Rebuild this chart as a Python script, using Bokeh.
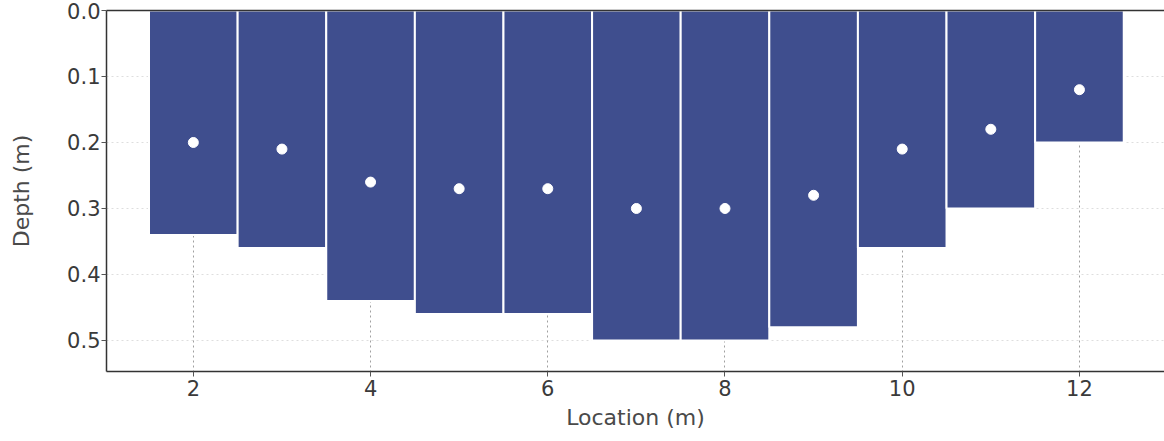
from bokeh.plotting import figure
from bokeh.models import Range1d, FixedTicker, LinearAxis, NumeralTickFormatter, ColumnDataSource
from bokeh.embed import file_html
from bokeh.resources import INLINE

locations = [2, 3, 4, 5, 6, 7, 8, 9, 10, 11, 12]
depths = [0.34, 0.36, 0.44, 0.46, 0.46, 0.50, 0.50, 0.48, 0.36, 0.30, 0.20]
point_depths = [0.20, 0.21, 0.26, 0.27, 0.27, 0.30, 0.30, 0.28, 0.21, 0.18, 0.12]
x_ticks = [2, 4, 6, 8, 10, 12]
y_ticks = [0.0, 0.1, 0.2, 0.3, 0.4, 0.5]

src = ColumnDataSource(dict(x=locations, d=depths, p=point_depths,
                            zero=[0.0] * len(locations)))

p = figure(width=1164, height=441, output_backend="svg", toolbar_location=None,
           x_range=Range1d(1.02, 12.96), y_range=Range1d(0.547, 0.0),
           min_border_left=106, min_border_bottom=70, min_border_top=10,
           min_border_right=0)
p.outline_line_color = None
p.background_fill_color = "white"
p.border_fill_color = "white"

# grid
p.xgrid.ticker = FixedTicker(ticks=x_ticks)
p.ygrid.ticker = FixedTicker(ticks=y_ticks)
for g in (p.xgrid, p.ygrid):
    g.grid_line_color = "#a0a0a0"
    g.grid_line_dash = "2 3"
    g.grid_line_width = 1
p.ygrid.grid_line_alpha = 0.35

p.vbar(x="x", width=1.0, top="zero", bottom="d", source=src,
       fill_color="#3f4e8e", line_color="white", line_width=2)
p.scatter(x="x", y="p", source=src, size=10, fill_color="white",
          line_color="white")

font = "DejaVu Sans"
for ax in (p.xaxis[0], p.yaxis[0]):
    ax.axis_line_color = "#333333"
    ax.axis_line_width = 1.5
    ax.major_tick_line_color = "#555555"
    ax.major_tick_out = 5
    ax.major_tick_in = 0
    ax.minor_tick_line_color = None
    ax.major_label_text_font = font
    ax.major_label_text_font_size = "21px"
    ax.major_label_text_color = "#3a3a3a"
    ax.axis_label_text_font = font
    ax.axis_label_text_font_size = "22px"
    ax.axis_label_text_color = "#4a4a4a"
    ax.axis_label_text_font_style = "normal"

p.xaxis[0].ticker = FixedTicker(ticks=x_ticks)
p.yaxis[0].ticker = FixedTicker(ticks=y_ticks)
p.yaxis[0].formatter = NumeralTickFormatter(format="0.0")
p.xaxis[0].axis_label = "Location (m)"
p.yaxis[0].axis_label = "Depth (m)"
p.xaxis[0].major_label_standoff = 3
p.xaxis[0].axis_label_standoff = 6
p.yaxis[0].major_label_standoff = 1
p.yaxis[0].axis_label_standoff = 30

top_axis = LinearAxis(major_tick_line_color=None, minor_tick_line_color=None,
                      major_label_text_font_size="0px", axis_line_color="#333333",
                      axis_line_width=1.5, ticker=FixedTicker(ticks=[]))
p.add_layout(top_axis, "above")

open("out.html", "w").write(file_html(p, INLINE))
